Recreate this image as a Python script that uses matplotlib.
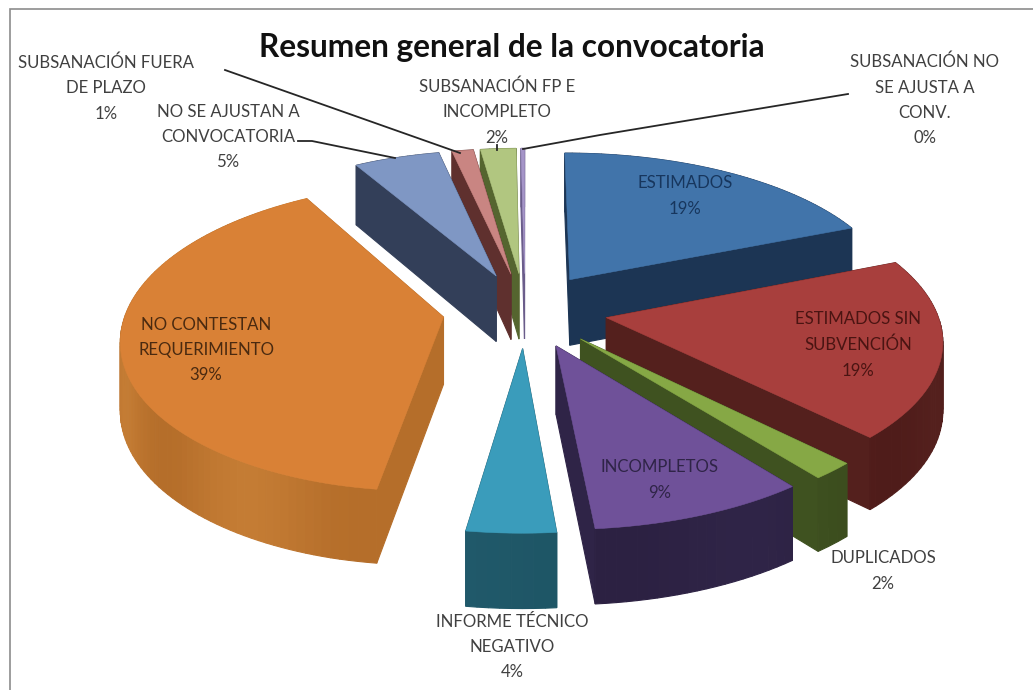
import numpy as np
import matplotlib
matplotlib.use('Agg')
import matplotlib.pyplot as plt
from matplotlib.colors import to_rgb
from matplotlib.patches import Polygon, Rectangle

# Chart data
categories = ['ESTIMADOS', 'ESTIMADOS SIN\nSUBVENCIÓN', 'DUPLICADOS', 'INCOMPLETOS',
              'INFORME TÉCNICO\nNEGATIVO', 'NO CONTESTAN\nREQUERIMIENTO',
              'NO SE AJUSTAN A\nCONVOCATORIA', 'SUBSANACIÓN FUERA\nDE PLAZO',
              'SUBSANACIÓN FP E\nINCOMPLETO', 'SUBSANACIÓN NO\nSE AJUSTA A\nCONV.']
values = [18.8, 18.9, 1.8, 9.1, 3.7, 39.4, 4.9, 1.2, 2.0, 0.2]
title = 'Resumen general de la convocatoria'

# Styles
top_colors = ['#4174aa', '#a83f3d', '#86a845', '#6f5199', '#3a9cbb', '#d98136',
              '#7f97c4', '#c98582', '#b1c680', '#a595c8']
side_colors = ['#1c3554', '#54201d', '#3f5220', '#2f2447', '#20596a', '#b56e2a',
               '#333f59', '#5f302e', '#55652f', '#6a5c8a']
side_colors2 = ['#1a3150', '#4f1c1a', '#3b4c1d', '#2c2142', '#1e5565', '#c47c34',
                '#2f3a52', '#5a2c2a', '#505f2c', '#65588a']
text_colors = ['#17365d', '#4a1412', '#404040', '#2f2447', '#404040', '#4a2a10',
               '#404040', '#404040', '#404040', '#404040']
label_x = [685, 858, 883, 660, 512, 206, 228, 106, 497, 925]
label_y = [196, 345, 571, 480, 647, 350, 137, 88, 112, 100]
leaders = [([225, 460], [70, 153]), ([298, 312, 395], [141, 141, 158]),
           ([497, 497], [145, 150]), ([848, 600, 523], [94, 135, 149])]

# Projection of the pie
cx, cy = 525, 310
R, S, p = 330, 150, 0.128
D = 67
explode = 0.25


def project(u, v, z=0):
    # the far left of the ellipse is a bit flatter in the original
    if u < -0.5:
        u = u + 0.053 * (-u - 0.5)
    w = 1 + p * v
    return cx + R * u / w, cy - S * v / w + D * (1 - 0.1 * v) * z


def quad(pts, color, ax):
    top = [project(u, v, 0) for u, v in pts]
    bottom = [project(u, v, 1) for u, v in reversed(pts)]
    ax.add_patch(Polygon(top + bottom, closed=True, fc=color, ec=color, lw=0.8))


def blend(a, b, t):
    a, b = np.array(to_rgb(a)), np.array(to_rgb(b))
    return tuple(a + (b - a) * t)


fig = plt.figure(figsize=(10.33, 6.9), dpi=100)
ax = fig.add_axes([0, 0, 1, 1])
ax.set_xlim(0, 1033)
ax.set_ylim(690, 0)
ax.axis('off')
plt.rcParams['font.family'] = 'Lato'

ax.add_patch(Rectangle((9.5, 8.5), 1030, 690, fc='white', ec='#8c8c8c', lw=1.2))

total = sum(values)
edges = np.cumsum([0] + values) / total * 2 * np.pi
slices = []
for i in range(len(values)):
    a0, a1 = edges[i], edges[i + 1]
    mid = (a0 + a1) / 2
    slices.append((np.cos(mid), i, a0, a1, mid))

# back to front
for _, i, a0, a1, mid in sorted(slices, key=lambda s: -s[0]):
    apex = (explode * np.sin(mid), explode * np.cos(mid))
    angs = np.linspace(a0, a1, max(3, int((a1 - a0) * 40)))
    rim = [(apex[0] + np.sin(a), apex[1] + np.cos(a)) for a in angs]

    walls = [([apex, rim[0]], side_colors[i]), ([apex, rim[-1]], side_colors[i])]
    for k in range(len(rim) - 1):
        band = 0.5 + 0.5 * np.sin(angs[k] * 9)
        walls.append(([rim[k], rim[k + 1]], blend(side_colors[i], side_colors2[i], band)))
    for pts, col in sorted(walls, key=lambda q: -(q[0][0][1] + q[0][1][1])):
        quad(pts, col, ax)

    face = [project(*apex)] + [project(*q) for q in rim]
    ax.add_patch(Polygon(face, closed=True, fc=top_colors[i], ec=top_colors[i], lw=0.4))

for xs, ys in leaders:
    ax.plot(xs, ys, color='#262626', lw=1.3, zorder=5)

for i, cat in enumerate(categories):
    ax.text(label_x[i], label_y[i], f'{cat}\n{round(values[i])}%', ha='center', va='center',
            fontsize=12.1, color=text_colors[i], linespacing=1.72, zorder=6)

ax.text(512, 47, title, ha='center', va='center', fontsize=22.8, fontweight='bold',
        color='#111111', zorder=6)

fig.savefig('out.png', dpi=100)
